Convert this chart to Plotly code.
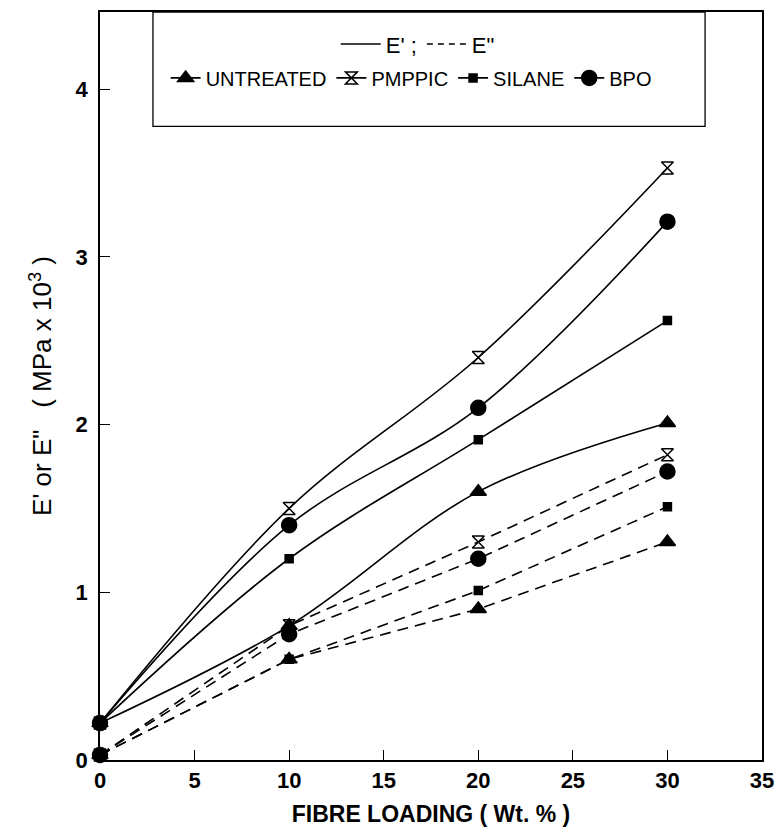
import plotly.graph_objects as go

fibre = [0, 10, 20, 30]
series = ["UNTREATED", "PMPPIC", "SILANE", "BPO"]
e_storage = {
    "UNTREATED": [0.22, 0.80, 1.60, 2.01],
    "PMPPIC":    [0.22, 1.50, 2.40, 3.53],
    "SILANE":    [0.22, 1.20, 1.91, 2.62],
    "BPO":       [0.22, 1.40, 2.10, 3.21],
}
e_loss = {
    "UNTREATED": [0.03, 0.60, 0.90, 1.30],
    "PMPPIC":    [0.03, 0.80, 1.30, 1.82],
    "SILANE":    [0.03, 0.60, 1.01, 1.51],
    "BPO":       [0.03, 0.75, 1.20, 1.72],
}
x_ticks = [0, 5, 10, 15, 20, 25, 30, 35]
y_ticks = [0, 1, 2, 3, 4]

symbols = {"UNTREATED": "triangle-up", "PMPPIC": "hourglass-open",
           "SILANE": "square", "BPO": "circle"}
sizes = {"UNTREATED": 14, "PMPPIC": 12, "SILANE": 8, "BPO": 15}

FONT = "Liberation Sans, Arial, Helvetica, sans-serif"
fig = go.Figure()

for s in series:
    fig.add_trace(go.Scatter(
        x=fibre, y=e_storage[s], name=s, mode="lines+markers",
        line=dict(color="black", width=1.6, shape="spline", smoothing=1.0),
        marker=dict(symbol=symbols[s], size=sizes[s], color="black",
                    line=dict(color="black", width=1.5)),
        legend="legend2", cliponaxis=False))
for s in series:
    fig.add_trace(go.Scatter(
        x=fibre, y=e_loss[s], name=s, mode="lines+markers", showlegend=False,
        line=dict(color="black", width=1.6, dash="11px,7px"),
        marker=dict(symbol=symbols[s], size=sizes[s], color="black",
                    line=dict(color="black", width=1.5)),
        cliponaxis=False))

fig.add_trace(go.Scatter(x=[None], y=[None], mode="lines", name="E' ;",
                         line=dict(color="black", width=1.6), legend="legend"))
fig.add_trace(go.Scatter(x=[None], y=[None], mode="lines", name='E"',
                         line=dict(color="black", width=1.6, dash="6px,5px"),
                         legend="legend"))

fig.add_shape(type="rect", xref="paper", yref="paper",
              x0=0.08, x1=0.914, y0=0.847, y1=1.0,
              line=dict(color="black", width=1.3), fillcolor="white", layer="below")

fig.update_layout(
    width=784, height=836,
    margin=dict(l=100, r=18, t=10, b=76),
    paper_bgcolor="white", plot_bgcolor="white",
    font=dict(family=FONT, color="black", size=18),
    legend=dict(orientation="h", x=0.48, xanchor="center", y=0.985, yanchor="top",
                bgcolor="rgba(0,0,0,0)", font=dict(size=22), itemwidth=40,
                traceorder="normal"),
    legend2=dict(orientation="h", x=0.47, xanchor="center", y=0.938, yanchor="top",
                 bgcolor="rgba(0,0,0,0)", font=dict(size=20), itemwidth=30,
                 traceorder="normal", tracegroupgap=0),
    xaxis=dict(range=[0, 35], tickvals=x_ticks, ticks="inside", ticklen=10,
               tickcolor="black", showgrid=False, zeroline=False,
               showline=True, linecolor="black", linewidth=1.5, mirror=True,
               tickfont=dict(size=22, family=FONT, weight="bold"),
               title=dict(text="FIBRE LOADING ( Wt. % )",
                          font=dict(size=23, weight="bold"), standoff=14)),
    yaxis=dict(range=[0, 4.46], tickvals=y_ticks, ticks="inside", ticklen=10,
               tickcolor="black", showgrid=False, zeroline=False,
               showline=True, linecolor="black", linewidth=1.5, mirror=True,
               ticklabelstandoff=6,
               tickfont=dict(size=22, family=FONT, weight="bold"),
               title=dict(text='E\' or E"   ( MPa x 10<sup>3</sup> )',
                          font=dict(size=26), standoff=16)),
)

fig.write_html("out.html")
